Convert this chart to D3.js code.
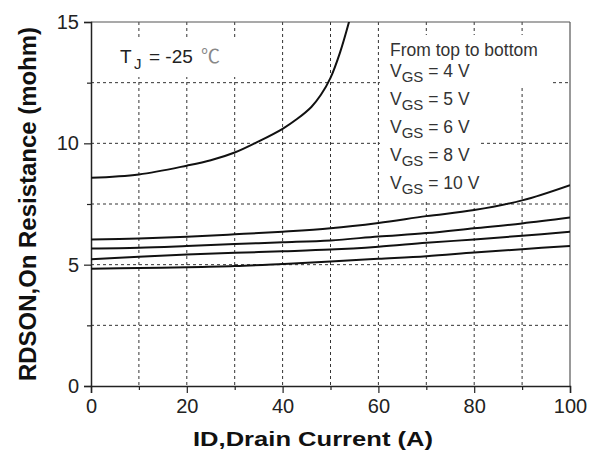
<!DOCTYPE html>
<html>
<head>
<meta charset="utf-8">
<script src="https://cdn.jsdelivr.net/npm/d3@7"></script>
<style>
  html, body { margin: 0; padding: 0; background: #fff; }
  svg { display: block; font-family: "Liberation Sans", Arial, sans-serif; }
</style>
</head>
<body>
<div id="chart"></div>
<script>
// ---- Data ----
const idGrid = [0, 10, 20, 30, 40, 50, 60, 70, 80, 90, 100];
const rdsVgs5 = [6.04, 6.08, 6.15, 6.25, 6.36, 6.5, 6.72, 7.0, 7.25, 7.65, 8.28];
const rdsVgs6 = [5.67, 5.7, 5.77, 5.85, 5.92, 6.0, 6.16, 6.3, 6.5, 6.7, 6.94];
const rdsVgs8 = [5.22, 5.33, 5.42, 5.49, 5.55, 5.62, 5.74, 5.9, 6.04, 6.19, 6.36];
const rdsVgs10 = [4.83, 4.86, 4.89, 4.94, 5.03, 5.13, 5.24, 5.35, 5.5, 5.64, 5.77];

const idVgs4 = [0, 10, 20, 25, 30, 35, 40, 43, 46, 48, 50, 52, 54];
const rdsVgs4 = [8.58, 8.72, 9.08, 9.3, 9.62, 10.08, 10.6, 11.0, 11.5, 12.0, 12.7, 13.75, 15.1];

const xMajorTicks = [0, 20, 40, 60, 80, 100];
const xMinorTicks = [10, 30, 50, 70, 90];
const yMajorTicks = [0, 5, 10, 15];
const yMinorTicks = [2.5, 7.5, 12.5];
const xGrid = [10, 20, 30, 40, 50, 60, 70, 80, 90];
const yGrid = [2.5, 5, 7.5, 10, 12.5];
const legendLines = ['4', '5', '6', '8', '10'];

const W = 597, H = 450;
const m = { top: 22, right: 27, bottom: 64, left: 91 };
const w = W - m.left - m.right;
const h = H - m.top - m.bottom;

const svg = d3.select('#chart').append('svg').attr('width', W).attr('height', H);
const g = svg.append('g').attr('transform', `translate(${m.left},${m.top})`);

const x = d3.scaleLinear().domain([0, 100]).range([0, w]);
const y = d3.scaleLinear().domain([0, 15]).range([h, 0]);

// ---- Dashed grid ----
g.append('g').selectAll('line').data(xGrid).enter().append('line')
  .attr('x1', d => x(d)).attr('x2', d => x(d))
  .attr('y1', 0).attr('y2', h)
  .attr('stroke', '#333').attr('stroke-width', 1).attr('stroke-dasharray', '3,3');
g.append('g').selectAll('line').data(yGrid).enter().append('line')
  .attr('x1', 0).attr('x2', w)
  .attr('y1', d => y(d)).attr('y2', d => y(d))
  .attr('stroke', '#333').attr('stroke-width', 1).attr('stroke-dasharray', '3,3');

// white backing behind the annotations (hides grid there)
const masks = [
  [21, 18, 128, 37],   // TJ label
  [289, 13, 172, 53],  // "From top to bottom"
  [289, 13, 100, 165]  // VGS list
];
g.append('g').selectAll('rect').data(masks).enter().append('rect')
  .attr('x', d => d[0]).attr('y', d => d[1])
  .attr('width', d => d[2]).attr('height', d => d[3])
  .attr('fill', '#fff');

// ---- Frame (top / right) ----
g.append('line').attr('x1', 0).attr('x2', w).attr('y1', 0).attr('y2', 0)
  .attr('stroke', '#555').attr('stroke-width', 1.2);
g.append('line').attr('x1', w).attr('x2', w).attr('y1', 0).attr('y2', h)
  .attr('stroke', '#555').attr('stroke-width', 1.2);

// ---- Axes ----
const xAxis = g.append('g').attr('transform', `translate(0,${h})`)
  .call(d3.axisBottom(x).tickValues(xMajorTicks).tickSize(7).tickPadding(6).tickFormat(d3.format('d')));
g.append('g').attr('transform', `translate(0,${h})`)
  .call(d3.axisBottom(x).tickValues(xMinorTicks).tickSize(4).tickFormat(''))
  .select('.domain').remove();
const yAxis = g.append('g')
  .call(d3.axisLeft(y).tickValues(yMajorTicks).tickSize(7).tickPadding(5).tickFormat(d3.format('d')));
g.append('g')
  .call(d3.axisLeft(y).tickValues(yMinorTicks).tickSize(4).tickFormat(''))
  .select('.domain').remove();

[xAxis, yAxis].forEach(a => {
  a.select('.domain').attr('stroke', '#222').attr('stroke-width', 1.5);
  a.selectAll('text').style('font-size', '20px').attr('fill', '#222')
    .style('font-family', '"Liberation Sans", Arial, sans-serif');
});
g.selectAll('.tick line').attr('stroke', '#222').attr('stroke-width', 1.2);

// ---- Curves ----
const clipId = 'plot-clip';
svg.append('defs').append('clipPath').attr('id', clipId)
  .append('rect').attr('width', w).attr('height', h);

const line = d3.line()
  .x(d => x(d[0]))
  .y(d => y(d[1]))
  .curve(d3.curveCatmullRom.alpha(0.5));

const series = [
  d3.zip(idVgs4, rdsVgs4),
  d3.zip(idGrid, rdsVgs5),
  d3.zip(idGrid, rdsVgs6),
  d3.zip(idGrid, rdsVgs8),
  d3.zip(idGrid, rdsVgs10)
];
g.append('g').attr('clip-path', `url(#${clipId})`)
  .selectAll('path').data(series).enter().append('path')
  .attr('d', line)
  .attr('fill', 'none')
  .attr('stroke', '#111')
  .attr('stroke-width', 2);

// ---- Annotations ----
const tj = svg.append('text').attr('y', 63).style('font-size', '19px').attr('fill', '#222');
tj.append('tspan').attr('x', 120).text('T');
tj.append('tspan').attr('x', 134).attr('dy', 6).style('font-size', '15px').text('J');
tj.append('tspan').attr('x', 149).attr('dy', -6).text('= -25');
tj.append('tspan').attr('x', 201).attr('fill', '#888')
  .style('font-family', '"Noto Sans CJK SC", sans-serif').style('font-size', '19px').text('℃');

svg.append('text').attr('x', 390).attr('y', 56)
  .style('font-size', '17.5px').attr('fill', '#333')
  .text('From top to bottom');

legendLines.forEach((v, i) => {
  const t = svg.append('text').attr('x', 390).attr('y', 77 + i * 28)
    .style('font-size', '17.5px').attr('fill', '#333');
  t.append('tspan').text('V');
  t.append('tspan').attr('dy', 5).style('font-size', '15px').text('GS');
  t.append('tspan').attr('dy', -5).text(` = ${v} V`);
});

// ---- Axis titles ----
svg.append('text')
  .attr('x', 313).attr('y', 446)
  .attr('text-anchor', 'middle')
  .style('font-size', '21px').style('font-weight', 'bold').attr('fill', '#111')
  .attr('textLength', 240).attr('lengthAdjust', 'spacingAndGlyphs')
  .text('ID,Drain Current (A)');

svg.append('text')
  .attr('transform', `translate(36,${m.top + h / 2}) rotate(-90)`)
  .attr('text-anchor', 'middle')
  .style('font-size', '23px').style('font-weight', 'bold').attr('fill', '#111')
  .attr('textLength', 354).attr('lengthAdjust', 'spacingAndGlyphs')
  .text('RDSON,On Resistance (mohm)');
</script>
</body>
</html>
